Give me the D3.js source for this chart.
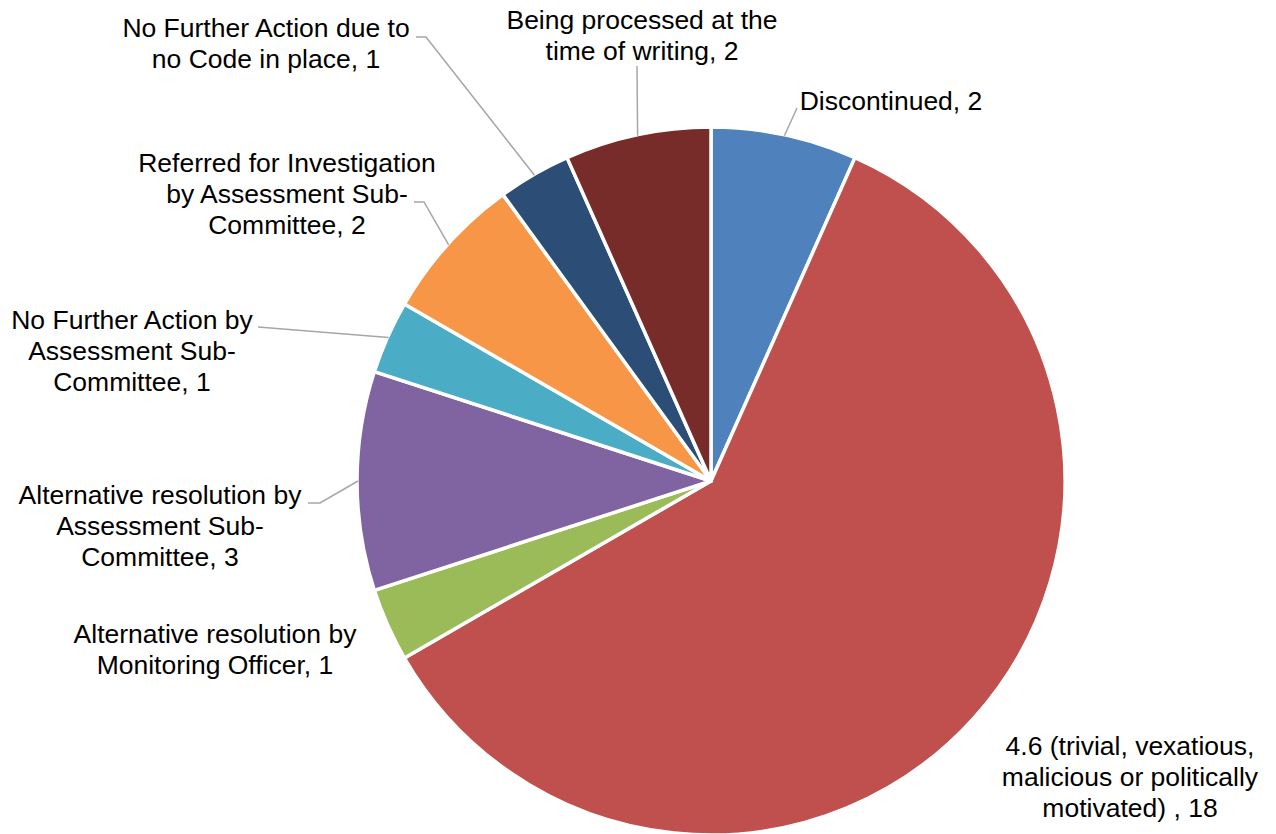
<!DOCTYPE html>
<html>
<head>
<meta charset="utf-8">
<script src="https://cdn.jsdelivr.net/npm/d3@7"></script>
<style>
  body { margin: 0; background: #fff; }
  svg { display: block; }
  .slice-label { font-family: "Liberation Sans", Arial, sans-serif; font-size: 26.5px; fill: #000; }
  .leader { fill: none; stroke: #a6a6a6; stroke-width: 1.5; }
</style>
</head>
<body>
<svg id="chart" width="1276" height="834"></svg>
<script>
// outcome categories, clockwise from 12 o'clock
const categories = [
    "Discontinued",
    "4.6 (trivial, vexatious, malicious or politically motivated) ",
    "Alternative resolution by Monitoring Officer",
    "Alternative resolution by Assessment Sub-Committee",
    "No Further Action by Assessment Sub-Committee",
    "Referred for Investigation by Assessment Sub-Committee",
    "No Further Action due to no Code in place",
    "Being processed at the time of writing"
];
const counts = [2, 18, 1, 3, 1, 2, 1, 2];
// how the data labels wrap in the original
const labelLines = [
    ["Discontinued, 2"],
    ["4.6 (trivial, vexatious,", "malicious or politically", "motivated) , 18"],
    ["Alternative resolution by", "Monitoring Officer, 1"],
    ["Alternative resolution by", "Assessment Sub-", "Committee, 3"],
    ["No Further Action by", "Assessment Sub-", "Committee, 1"],
    ["Referred for Investigation", "by Assessment Sub-", "Committee, 2"],
    ["No Further Action due to", "no Code in place, 1"],
    ["Being processed at the", "time of writing, 2"]
];
const colors = ["#4f81bd", "#c0504d", "#9bbb59", "#8064a2", "#4bacc6", "#f79646", "#2c4d75", "#772c2a"];

// label layout: text centre x, first line middle y, leader elbow points (null = no leader)
const labelLayout = [
    {x: 891, y: 101, leader: [[797, 108]]},
    {x: 1130, y: 746, leader: null},
    {x: 215, y: 634, leader: null},
    {x: 160, y: 495, leader: [[320, 503], [308, 503]]},
    {x: 132, y: 320, leader: [[258, 327]]},
    {x: 287, y: 163, leader: [[424, 202], [414, 202]]},
    {x: 266, y: 28, leader: [[426, 37], [416, 37]]},
    {x: 642, y: 20, leader: [[637, 66]]}
];

const cx = 711, cy = 481, radius = 354, lineHeight = 31;

const svg = d3.select("#chart");
const g = svg.append("g").attr("transform", `translate(${cx},${cy})`);

const data = categories.map((c, i) => ({name: c, value: counts[i], i: i}));
const pie = d3.pie().value(d => d.value).sort(null);
const arc = d3.arc().innerRadius(0).outerRadius(radius);
const edgeArc = d3.arc().innerRadius(radius - 1).outerRadius(radius - 1);

const arcs = pie(data);

g.selectAll("path.slice").data(arcs).join("path")
    .attr("class", "slice")
    .attr("d", arc)
    .attr("fill", d => colors[d.data.i])
    .attr("stroke", "#fff")
    .attr("stroke-width", 3.5)
    .attr("stroke-linejoin", "round");

// leader lines from the slice edge to the label
let line = d3.line();
svg.selectAll("path.leader").data(arcs.filter(d => labelLayout[d.data.i].leader)).join("path")
    .attr("class", "leader")
    .attr("d", d => {
        let [ex, ey] = edgeArc.centroid(d);
        let pts = [[cx + ex, cy + ey]].concat(labelLayout[d.data.i].leader);
        return line(pts);
    });

// data labels
let labels = svg.selectAll("text.slice-label").data(arcs).join("text")
    .attr("class", "slice-label")
    .attr("text-anchor", "middle")
    .attr("dominant-baseline", "central");
labels.selectAll("tspan").data(d => labelLines[d.data.i].map((t, k) => ({t: t, k: k, lay: labelLayout[d.data.i]}))).join("tspan")
    .attr("x", d => d.lay.x)
    .attr("y", d => d.lay.y + d.k * lineHeight)
    .text(d => d.t);
</script>
</body>
</html>
